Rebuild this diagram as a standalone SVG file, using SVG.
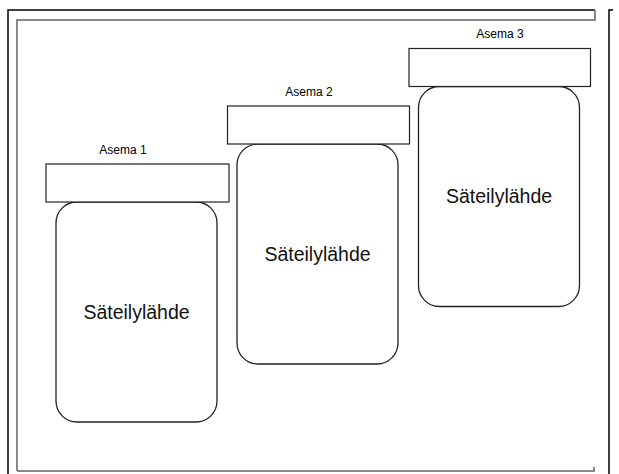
<svg xmlns="http://www.w3.org/2000/svg" width="619" height="474" viewBox="0 0 619 474">
  <style>
    .frameB { stroke: #000; stroke-width: 1.5; fill: none; }
    .frameG { stroke: #888; stroke-width: 2; fill: none; }
    .head { fill: #fff; stroke: #222; stroke-width: 1.2; }
    .body { fill: #fff; stroke: #222; stroke-width: 1.3; }
    .lbl { font-family: "Liberation Sans", Arial, sans-serif; font-size: 12px; fill: #000; text-anchor: middle; }
    .big { font-family: "Liberation Sans", Arial, sans-serif; font-size: 19.5px; fill: #111; text-anchor: middle; }
  </style>
  <rect width="619" height="474" fill="#fff"/>
  <g id="frame">
    <path class="frameB" d="M8,474 V10 H595"/>
    <path class="frameB" d="M613,10 H609 V474"/>
    <path class="frameG" d="M17,471 V20 H595 V10"/>
    <path class="frameG" d="M17,471 H594 V467"/>
  </g>
  <g id="connectors"/>
  <g id="asema1">
    <rect class="body" x="56" y="202" width="161" height="220" rx="21" ry="21"/>
    <rect class="head" x="46" y="164" width="183" height="38"/>
    <text class="lbl" x="123" y="153.5">Asema 1</text>
    <text class="big" x="136.5" y="318.8">Säteilylähde</text>
  </g>
  <g id="asema2">
    <rect class="body" x="237" y="144" width="161" height="220" rx="21" ry="21"/>
    <rect class="head" x="227.5" y="106" width="182" height="38"/>
    <text class="lbl" x="309" y="95.5">Asema 2</text>
    <text class="big" x="317.5" y="260.8">Säteilylähde</text>
  </g>
  <g id="asema3">
    <rect class="body" x="418.5" y="86.5" width="161" height="220" rx="21" ry="21"/>
    <rect class="head" x="409" y="48.5" width="181.5" height="38"/>
    <text class="lbl" x="500" y="37.5">Asema 3</text>
    <text class="big" x="499" y="203.3">Säteilylähde</text>
  </g>
</svg>
